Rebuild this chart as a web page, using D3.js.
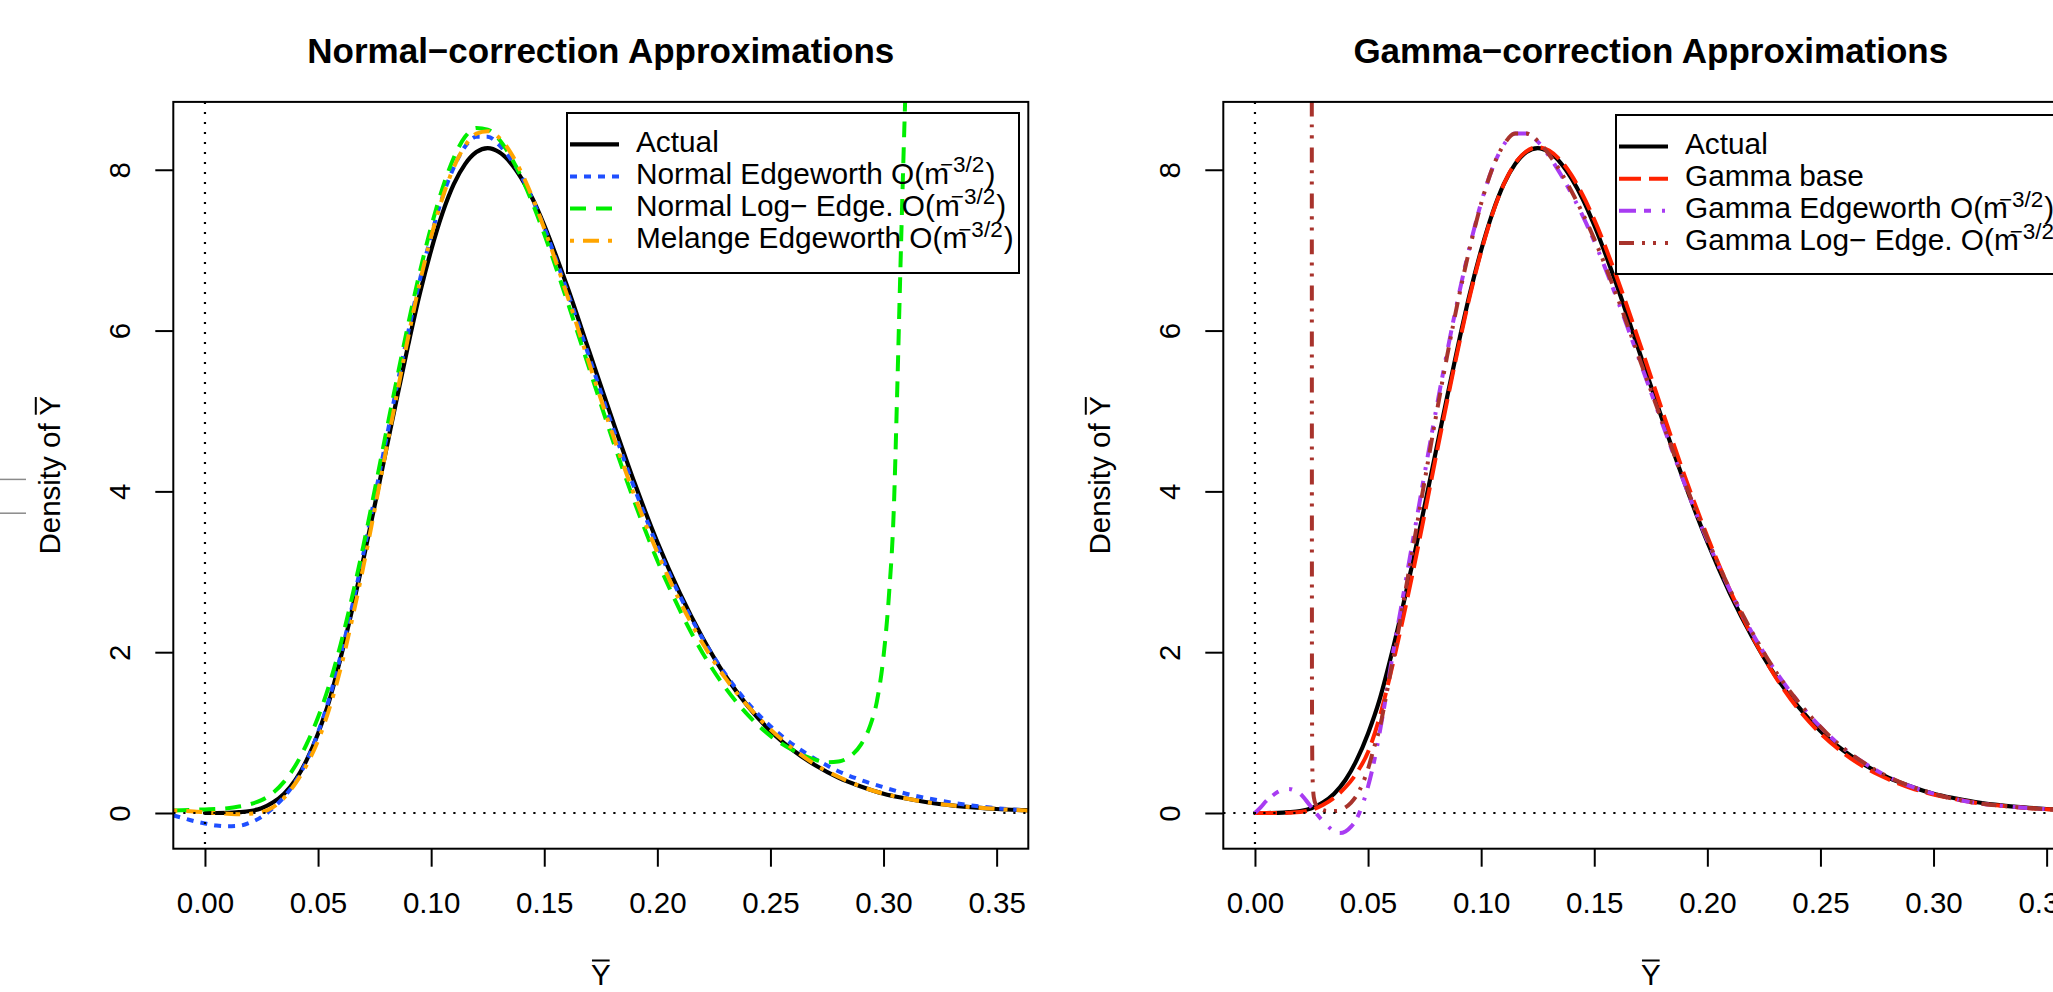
<!DOCTYPE html>
<html><head><meta charset="utf-8">
<script src="https://cdn.jsdelivr.net/npm/d3@7"></script>
<style>
html,body{margin:0;padding:0;background:#fff;}
svg{display:block;}
</style></head><body>
<svg id="chart" width="2053" height="992"></svg>
<script>
// ---------------- DATA ----------------
const xTicks = [0, 0.05, 0.10, 0.15, 0.20, 0.25, 0.30, 0.35];
const yTicks = [0, 2, 4, 6, 8];
const xDomain = [-0.014, 0.364];
const yDomain = [-0.444, 8.844];
const titles = ["Normal\u2212correction Approximations", "Gamma\u2212correction Approximations"];
const xLabel = "Y";
const yLabel = "Density of Y";
const supText = "\u22123/2";
const leftLegendLabels = ["Actual", "Normal Edgeworth O(m", "Normal Log\u2212 Edge. O(m", "Melange Edgeworth O(m"];
const rightLegendLabels = ["Actual", "Gamma base", "Gamma Edgeworth O(m", "Gamma Log\u2212 Edge. O(m"];
const leftLegendSup = [false, true, true, true];
const rightLegendSup = [false, false, true, true];

const actual = [[0,0],[0.005,0],[0.01,0.002],[0.015,0.01],[0.02,0.025],[0.025,0.06],[0.03,0.13],[0.035,0.24],[0.04,0.41],[0.045,0.66],[0.05,0.99],[0.055,1.4],[0.06,1.93],[0.065,2.52],[0.07,3.15],[0.075,3.82],[0.08,4.5],[0.085,5.18],[0.09,5.84],[0.095,6.46],[0.1,7.0],[0.105,7.46],[0.11,7.82],[0.115,8.07],[0.12,8.22],[0.125,8.27],[0.13,8.22],[0.135,8.09],[0.14,7.89],[0.145,7.63],[0.15,7.31],[0.16,6.56],[0.17,5.73],[0.18,4.9],[0.19,4.1],[0.2,3.37],[0.21,2.73],[0.22,2.18],[0.23,1.71],[0.24,1.33],[0.25,1.02],[0.26,0.78],[0.27,0.59],[0.28,0.44],[0.29,0.33],[0.3,0.24],[0.31,0.18],[0.32,0.13],[0.33,0.095],[0.34,0.07],[0.35,0.05],[0.364,0.035]];

const normalEdge = [[-0.014,-0.03],[-0.01,-0.06],[-0.005,-0.1],[0,-0.13],[0.005,-0.155],[0.01,-0.165],[0.015,-0.16],[0.02,-0.12],[0.025,-0.05],[0.03,0.06],[0.035,0.2],[0.04,0.39],[0.045,0.65],[0.05,1.0],[0.055,1.43],[0.06,1.96],[0.065,2.56],[0.07,3.22],[0.075,3.92],[0.08,4.63],[0.085,5.33],[0.09,6.0],[0.095,6.63],[0.1,7.18],[0.105,7.66],[0.11,8.03],[0.115,8.29],[0.12,8.41],[0.125,8.41],[0.13,8.31],[0.135,8.14],[0.14,7.91],[0.145,7.62],[0.15,7.28],[0.16,6.5],[0.17,5.66],[0.18,4.82],[0.19,4.03],[0.2,3.32],[0.21,2.7],[0.22,2.17],[0.23,1.73],[0.24,1.37],[0.25,1.08],[0.26,0.85],[0.27,0.67],[0.28,0.52],[0.29,0.41],[0.3,0.32],[0.31,0.24],[0.32,0.18],[0.33,0.13],[0.34,0.09],[0.35,0.06],[0.364,0.03]];

const normalLogEdge = [[-0.014,0.03],[-0.005,0.04],[0,0.045],[0.005,0.05],[0.01,0.06],[0.015,0.08],[0.02,0.11],[0.025,0.16],[0.03,0.25],[0.035,0.39],[0.04,0.59],[0.045,0.86],[0.05,1.19],[0.055,1.6],[0.06,2.1],[0.065,2.68],[0.07,3.32],[0.075,4.01],[0.08,4.72],[0.085,5.42],[0.09,6.1],[0.095,6.73],[0.1,7.29],[0.105,7.77],[0.11,8.15],[0.115,8.41],[0.12,8.52],[0.125,8.5],[0.13,8.38],[0.135,8.17],[0.14,7.9],[0.145,7.57],[0.15,7.2],[0.16,6.38],[0.17,5.52],[0.18,4.66],[0.19,3.86],[0.2,3.14],[0.21,2.52],[0.22,1.99],[0.23,1.56],[0.24,1.22],[0.25,0.96],[0.26,0.78],[0.27,0.66],[0.275,0.63],[0.28,0.64],[0.285,0.7],[0.29,0.85],[0.294,1.08],[0.297,1.38],[0.3,1.95],[0.3025,2.75],[0.3045,3.75],[0.306,5.2],[0.3073,6.6],[0.3085,7.85],[0.3097,9.0],[0.311,10.3]];

const melange = [[-0.014,0.03],[-0.005,0.02],[0,0.01],[0.005,0.0],[0.01,-0.01],[0.015,-0.015],[0.02,-0.01],[0.025,0.01],[0.03,0.07],[0.035,0.19],[0.04,0.37],[0.045,0.6],[0.05,0.9],[0.055,1.3],[0.06,1.8],[0.065,2.4],[0.07,3.06],[0.075,3.77],[0.08,4.5],[0.085,5.23],[0.09,5.94],[0.095,6.6],[0.1,7.17],[0.105,7.65],[0.11,8.03],[0.115,8.3],[0.12,8.45],[0.125,8.48],[0.13,8.4],[0.135,8.22],[0.14,7.96],[0.145,7.64],[0.15,7.27],[0.16,6.45],[0.17,5.58],[0.18,4.73],[0.19,3.94],[0.2,3.24],[0.21,2.63],[0.22,2.11],[0.23,1.68],[0.24,1.33],[0.25,1.04],[0.26,0.8],[0.27,0.6],[0.28,0.45],[0.29,0.33],[0.3,0.24],[0.31,0.18],[0.32,0.13],[0.33,0.095],[0.34,0.07],[0.35,0.05],[0.364,0.03]];

const gammaBase = [[0,0],[0.005,0],[0.01,0],[0.015,0.003],[0.02,0.012],[0.025,0.04],[0.03,0.1],[0.035,0.19],[0.04,0.32],[0.045,0.5],[0.05,0.76],[0.055,1.18],[0.06,1.74],[0.065,2.36],[0.07,3.02],[0.075,3.72],[0.08,4.43],[0.085,5.13],[0.09,5.8],[0.095,6.43],[0.1,6.98],[0.105,7.45],[0.11,7.82],[0.115,8.08],[0.12,8.23],[0.125,8.28],[0.13,8.24],[0.135,8.12],[0.14,7.93],[0.145,7.68],[0.15,7.38],[0.16,6.66],[0.17,5.85],[0.18,5.01],[0.19,4.19],[0.2,3.44],[0.21,2.77],[0.22,2.19],[0.23,1.7],[0.24,1.3],[0.25,0.99],[0.26,0.75],[0.27,0.56],[0.28,0.42],[0.29,0.31],[0.3,0.23],[0.31,0.17],[0.32,0.12],[0.33,0.09],[0.34,0.065],[0.35,0.047],[0.364,0.03]];

const gammaEdge = [[0,0],[0.0025,0.07],[0.005,0.15],[0.0075,0.21],[0.01,0.26],[0.0125,0.29],[0.015,0.3],[0.0175,0.28],[0.02,0.24],[0.0225,0.16],[0.025,0.07],[0.0275,-0.02],[0.03,-0.1],[0.0325,-0.17],[0.035,-0.23],[0.0375,-0.25],[0.04,-0.23],[0.0425,-0.17],[0.045,-0.07],[0.0475,0.1],[0.05,0.33],[0.0525,0.62],[0.055,0.98],[0.0575,1.38],[0.06,1.82],[0.065,2.62],[0.07,3.42],[0.075,4.22],[0.08,5.0],[0.085,5.74],[0.09,6.43],[0.095,7.05],[0.1,7.59],[0.105,8.02],[0.11,8.31],[0.115,8.45],[0.12,8.45],[0.125,8.35],[0.13,8.17],[0.135,7.95],[0.14,7.7],[0.145,7.42],[0.15,7.11],[0.16,6.4],[0.17,5.63],[0.18,4.85],[0.19,4.09],[0.2,3.39],[0.21,2.77],[0.22,2.23],[0.23,1.77],[0.24,1.39],[0.25,1.07],[0.26,0.81],[0.27,0.61],[0.28,0.45],[0.29,0.33],[0.3,0.24],[0.31,0.17],[0.32,0.12],[0.33,0.09],[0.34,0.065],[0.35,0.047],[0.364,0.03]];

const gammaLogEdge = [[0.0251,14],[0.0252,1.5],[0.0254,0.5],[0.026,0.2],[0.027,0.1],[0.029,0.05],[0.032,0.025],[0.036,0.025],[0.04,0.07],[0.0425,0.13],[0.045,0.22],[0.0475,0.36],[0.05,0.55],[0.0525,0.8],[0.055,1.04],[0.0575,1.38],[0.06,1.76],[0.0625,2.12],[0.065,2.52],[0.07,3.32],[0.075,4.13],[0.08,4.93],[0.085,5.69],[0.09,6.4],[0.095,7.03],[0.1,7.58],[0.105,8.02],[0.11,8.31],[0.115,8.45],[0.12,8.45],[0.125,8.36],[0.13,8.19],[0.135,7.98],[0.14,7.73],[0.145,7.45],[0.15,7.14],[0.16,6.43],[0.17,5.65],[0.18,4.87],[0.19,4.11],[0.2,3.41],[0.21,2.78],[0.22,2.24],[0.23,1.77],[0.24,1.39],[0.25,1.07],[0.26,0.81],[0.27,0.61],[0.28,0.45],[0.29,0.33],[0.3,0.24],[0.31,0.17],[0.32,0.12],[0.33,0.09],[0.34,0.065],[0.35,0.047],[0.364,0.03]];

// ---------------- STYLE / LAYOUT ----------------
const FONT = "'Liberation Sans', Arial, Helvetica, sans-serif";
const W = 2053, H = 992;
const yTop = 101.9, yBot = 848.7;

const styles = {
  actual:   {color:"#000000", width:4.2, dash:null},
  nEdge:    {color:"#1f4fff", width:4,   dash:"7 7"},
  nLog:     {color:"#00ee00", width:4,   dash:"16 10"},
  melange:  {color:"#ffa500", width:4,   dash:"4 9 16 9"},
  gBase:    {color:"#ff2200", width:4,   dash:"22 8"},
  gEdge:    {color:"#a83cf2", width:4,   dash:"17 8 7 11 3 10"},
  gLog:     {color:"#a8332c", width:4,   dash:"15 8 3 8 3 9"}
};

const panels = [
  { left:173.3, right:1028.3, title:titles[0],
    series:[[actual,styles.actual],[normalEdge,styles.nEdge],[normalLogEdge,styles.nLog],[melange,styles.melange]],
    legend:{x:567, y:113, w:452, h:160, row0:144.3, labels:leftLegendLabels, sup:leftLegendSup,
            styles:[styles.actual,styles.nEdge,styles.nLog,styles.melange]},
    artifacts:true },
  { left:1223.3, right:2078.3, title:titles[1],
    series:[[actual,styles.actual],[gammaBase,styles.gBase],[gammaEdge,styles.gEdge],[gammaLogEdge,styles.gLog]],
    legend:{x:1616, y:115, w:453, h:159, row0:146.5, labels:rightLegendLabels, sup:rightLegendSup,
            styles:[styles.actual,styles.gBase,styles.gEdge,styles.gLog]},
    artifacts:false }
];

const svg = d3.select("#chart");
svg.append("rect").attr("width", W).attr("height", H).attr("fill", "#fff");

panels.forEach((p, pi) => {
  const x = d3.scaleLinear().domain(xDomain).range([p.left, p.right]);
  const y = d3.scaleLinear().domain(yDomain).range([yBot, yTop]);
  const cx = (p.left + p.right) / 2;

  const clipId = "clip" + pi;
  svg.append("clipPath").attr("id", clipId).append("rect")
    .attr("x", p.left).attr("y", yTop).attr("width", p.right - p.left).attr("height", yBot - yTop);

  const plot = svg.append("g").attr("clip-path", `url(#${clipId})`);
  const line = d3.line().x(d => x(d[0])).y(d => y(d[1])).curve(d3.curveMonotoneX);

  p.series.forEach(([data, st]) => {
    plot.append("path").datum(data).attr("d", line)
      .attr("fill", "none").attr("stroke", st.color).attr("stroke-width", st.width)
      .attr("stroke-dasharray", st.dash).attr("stroke-linejoin", "round")
      .attr("stroke-linecap", st.dash ? "butt" : "round");
  });

  // reference lines (dotted)
  plot.append("line").attr("x1", x(0)).attr("x2", x(0)).attr("y1", yTop).attr("y2", yBot)
    .attr("stroke", "#000").attr("stroke-width", 2.2).attr("stroke-dasharray", "2.2 7.8");
  plot.append("line").attr("x1", p.left).attr("x2", p.right).attr("y1", y(0)).attr("y2", y(0))
    .attr("stroke", "#000").attr("stroke-width", 2.2).attr("stroke-dasharray", "2.2 7.8");

  // box
  svg.append("rect").attr("x", p.left).attr("y", yTop).attr("width", p.right - p.left).attr("height", yBot - yTop)
    .attr("fill", "none").attr("stroke", "#000").attr("stroke-width", 2);

  // x axis
  const gx = svg.append("g").attr("transform", `translate(0,${yBot})`)
    .call(d3.axisBottom(x).tickValues(xTicks).tickFormat(d3.format(".2f")).tickSize(18).tickSizeOuter(0));
  gx.attr("font-family", FONT).attr("font-size", 29.5);
  gx.select(".domain").remove();
  gx.selectAll(".tick line").attr("stroke", "#000").attr("stroke-width", 2);
  gx.selectAll(".tick text").attr("y", 64).attr("dy", null).attr("fill", "#000");

  // y axis
  const gy = svg.append("g").attr("transform", `translate(${p.left},0)`)
    .call(d3.axisLeft(y).tickValues(yTicks).tickFormat(d3.format("d")).tickSize(18).tickSizeOuter(0));
  gy.attr("font-family", FONT).attr("font-size", 29.5);
  gy.select(".domain").remove();
  gy.selectAll(".tick line").attr("stroke", "#000").attr("stroke-width", 2);
  gy.selectAll(".tick text").attr("x", null).attr("dy", null).attr("fill", "#000")
    .attr("text-anchor", "middle").attr("transform", "translate(-43,0) rotate(-90)");

  // title
  svg.append("text").attr("x", cx).attr("y", 63).attr("text-anchor", "middle")
    .attr("font-family", FONT).attr("font-size", 35).attr("font-weight", "bold").text(p.title);

  // x label with overline
  const xl = svg.append("text").attr("x", cx).attr("y", 985).attr("text-anchor", "middle")
    .attr("font-family", FONT).attr("font-size", 29.5).text(xLabel);
  const xw = xl.node().getComputedTextLength();
  svg.append("line").attr("x1", cx - xw / 2 + 1).attr("x2", cx + xw / 2 - 1).attr("y1", 960.5).attr("y2", 960.5)
    .attr("stroke", "#000").attr("stroke-width", 2);

  // y label (rotated) with overline on the final Y
  const gyl = svg.append("g").attr("transform", `translate(${p.left - 113},${(yTop + yBot) / 2}) rotate(-90)`);
  const yt = gyl.append("text").attr("font-family", FONT).attr("font-size", 29.5)
    .attr("text-anchor", "middle").attr("x", 0).attr("y", 0).text(yLabel);
  const ext = yt.node().getExtentOfChar(yLabel.length - 1);
  gyl.append("line").attr("x1", ext.x + 1).attr("x2", ext.x + ext.width - 1)
    .attr("y1", -24.5).attr("y2", -24.5).attr("stroke", "#000").attr("stroke-width", 2);

  // legend
  const L = p.legend;
  const lg = svg.append("g");
  lg.append("rect").attr("x", L.x).attr("y", L.y).attr("width", L.w).attr("height", L.h)
    .attr("fill", "none").attr("stroke", "#000").attr("stroke-width", 2);
  L.labels.forEach((lab, i) => {
    const ry = L.row0 + i * 32.15;
    const st = L.styles[i];
    lg.append("line").attr("x1", L.x + 3).attr("x2", L.x + 52).attr("y1", ry).attr("y2", ry)
      .attr("stroke", st.color).attr("stroke-width", st.width).attr("stroke-dasharray", st.dash)
      .attr("stroke-linecap", "butt");
    const tx = lg.append("text").attr("x", L.x + 69).attr("y", ry + 7.3)
      .attr("font-family", FONT).attr("font-size", 29.8);
    tx.append("tspan").text(lab);
    if (L.sup[i]) {
      tx.append("tspan").attr("font-size", 22.5).attr("dy", -11.5).attr("dx", -9).text(supText);
      tx.append("tspan").attr("font-size", 29.8).attr("dy", 11.5).attr("dx", 1).text(")");
    }
  });

  if (p.artifacts) {
    [479.4, 513.2].forEach(yy => {
      svg.append("line").attr("x1", 0).attr("x2", 26).attr("y1", yy).attr("y2", yy)
        .attr("stroke", "#8a8a8a").attr("stroke-width", 1.5);
    });
  }
});
</script>
</body></html>
